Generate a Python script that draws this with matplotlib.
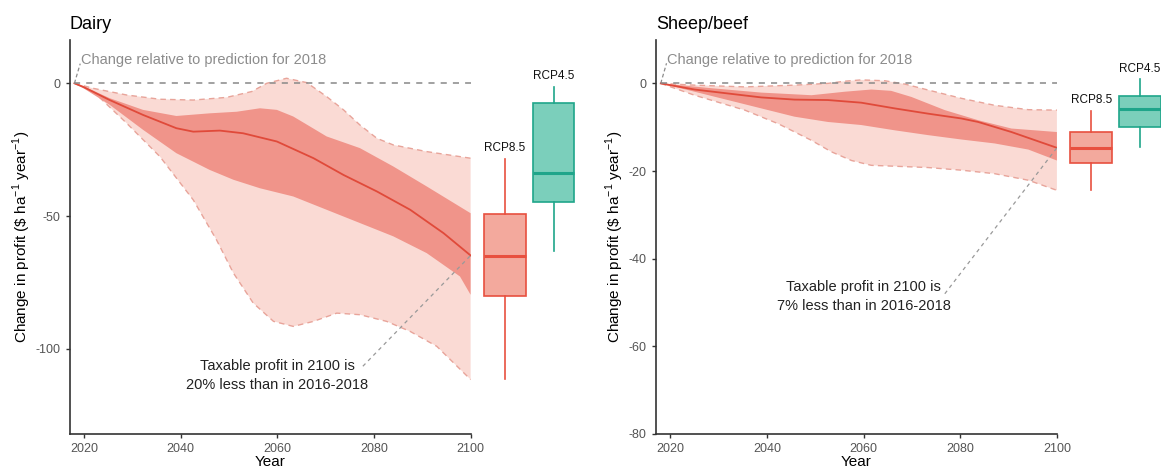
import matplotlib
matplotlib.use("Agg")
import matplotlib.pyplot as plt
import numpy as np

plt.rcParams['font.family'] = ['Liberation Sans', 'DejaVu Sans']
plt.rcParams['mathtext.fontset'] = 'custom'
plt.rcParams['mathtext.rm'] = 'Liberation Sans'
plt.rcParams['axes.unicode_minus'] = False

# ---------------- Dairy ----------------
dairy_med_x = [2018, 2020, 2025.3, 2032.2, 2039.1, 2042.6, 2048.1, 2052.9, 2059.9,
               2067.5, 2073.7, 2080.6, 2087.5, 2094.4, 2100]
dairy_med_y = [0, -1.5, -6.3, -11.9, -16.9, -18.2, -17.8, -18.8, -21.9,
               -28.2, -34.5, -40.7, -47.6, -56.4, -64.8]

dairy_ihi_x = [2018, 2020, 2025.3, 2032.2, 2039.1, 2046, 2051.6, 2056.4, 2059.9,
               2063.3, 2066.8, 2070.2, 2077.1, 2084, 2090.9, 2100]
dairy_ihi_y = [0, -1.2, -5.6, -10, -12.3, -11.3, -10.7, -9.4, -10,
               -12.5, -16.3, -20, -24.4, -31.3, -38.8, -48.9]

dairy_ilo_x = [2018, 2020, 2025.3, 2032.2, 2039.1, 2046, 2050.9, 2056.4, 2063.3,
               2070.2, 2077.1, 2084, 2090.9, 2097.8, 2100]
dairy_ilo_y = [0, -2, -8.1, -17.5, -26.3, -32.6, -36.3, -39.5, -42.6,
               -47.6, -52.6, -57.6, -63.9, -72.7, -79.6]

dairy_ohi_x = [2018, 2021.9, 2028.8, 2035.7, 2042.6, 2049.5, 2054.7, 2057.8, 2061.9,
               2066.1, 2070.2, 2073.7, 2077.1, 2080.6, 2084, 2090.9, 2100]
dairy_ohi_y = [0, -1.9, -4.4, -6, -6.3, -5.3, -3.1, 0, 1.9,
               0.25, -5, -10, -15.7, -20.7, -23.2, -25.7, -28.2]

dairy_olo_x = [2018, 2021.9, 2028.8, 2035.7, 2042.6, 2047.4, 2050.9, 2055, 2059.2,
               2063.3, 2067.5, 2072.3, 2077.1, 2082.6, 2087.5, 2093, 2100]
dairy_olo_y = [0, -3.1, -15, -27.6, -43.9, -58.9, -71.4, -82.7, -89.6,
               -91.5, -89.6, -86.5, -87.1, -89.6, -93.4, -99, -111.5]

dairy_box85 = dict(whislo=-111.4, q1=-80, med=-65, q3=-49.1, whishi=-28.5)
dairy_box45 = dict(whislo=-63, q1=-44.7, med=-33.6, q3=-7.5, whishi=-1.3)

# ---------------- Sheep/beef ----------------
sheep_med_x = [2018, 2025, 2031.9, 2038.8, 2045.7, 2052.6, 2059.5, 2066.4, 2073.3,
               2080.2, 2083.7, 2090.6, 2100]
sheep_med_y = [0, -1.4, -2.3, -3.2, -3.7, -3.8, -4.4, -5.7, -6.9,
               -8, -8.8, -11.1, -14.7]

sheep_ihi_x = [2018, 2028.5, 2038.8, 2049.2, 2056.1, 2061.6, 2065.7, 2069.9, 2076.8,
               2083.7, 2090.6, 2100]
sheep_ihi_y = [0, -1.1, -2.1, -2.7, -1.9, -1.4, -1.7, -3.1, -6.1,
               -8.4, -10.3, -11.1]

sheep_ilo_x = [2018, 2025, 2031.9, 2038.8, 2045.7, 2052.6, 2059.5, 2066.4, 2073.3,
               2080.2, 2087.1, 2094.1, 2100]
sheep_ilo_y = [0, -1.9, -3.8, -5.7, -7.6, -8.8, -9.5, -10.7, -11.8,
               -12.8, -13.7, -15.1, -17.6]

sheep_ohi_x = [2018, 2025, 2035.4, 2045.7, 2052.6, 2056.1, 2059.5, 2064.4, 2068.5,
               2073.3, 2080.2, 2087.1, 2094.1, 2100]
sheep_ohi_y = [0, -0.4, -0.8, -0.4, 0, 0.5, 0.8, 0.6, -0.15,
               -1.5, -3.4, -5, -6, -6.1]

sheep_olo_x = [2018, 2025, 2035.4, 2042.3, 2049.2, 2053.3, 2057.5, 2061.6, 2066.4,
               2073.3, 2080.2, 2087.1, 2094.1, 2100]
sheep_olo_y = [0, -2.7, -6.1, -9.2, -13, -15.6, -17.6, -18.7, -18.9,
               -19.2, -19.8, -20.6, -22.1, -24.4]

sheep_box85 = dict(whislo=-24.4, q1=-18.1, med=-14.7, q3=-11.2, whishi=-6.3)
sheep_box45 = dict(whislo=-14.5, q1=-9.9, med=-5.9, q3=-2.8, whishi=1.0)

panels = [
    dict(title="Dairy",
         med=(dairy_med_x, dairy_med_y), ihi=(dairy_ihi_x, dairy_ihi_y),
         ilo=(dairy_ilo_x, dairy_ilo_y), ohi=(dairy_ohi_x, dairy_ohi_y),
         olo=(dairy_olo_x, dairy_olo_y), b85=dairy_box85, b45=dairy_box45,
         ylim=(-132, 16.3), yticks=[0, -50, -100],
         ref_text_y=8.7, note="Taxable profit in 2100 is\n20% less than in 2016-2018",
         note_y=-110, lead_start=(2077.7, -106.5), lab85=-24.4, lab45=2.7,
         left=69.6 / 1161),
    dict(title="Sheep/beef",
         med=(sheep_med_x, sheep_med_y), ihi=(sheep_ihi_x, sheep_ihi_y),
         ilo=(sheep_ilo_x, sheep_ilo_y), ohi=(sheep_ohi_x, sheep_ohi_y),
         olo=(sheep_olo_x, sheep_olo_y), b85=sheep_box85, b45=sheep_box45,
         ylim=(-80, 9.9), yticks=[0, -20, -40, -60, -80],
         ref_text_y=5.4, note="Taxable profit in 2100 is\n7% less than in 2016-2018",
         note_y=-48.7, lead_start=(2076.8, -48.0), lab85=-3.8, lab45=3.3,
         left=655.9 / 1161),
]

LIGHT = "#FADAD4"
DARK = "#F0948A"
LINE = "#E04A3A"
EDGE = "#E8A49A"
RED_BOX_FILL = "#F3A99D"
RED_BOX_EDGE = "#E8503F"
TEAL_FILL = "#7BCFBB"
TEAL_EDGE = "#1FA58A"
GREY = "#8C8C8C"

fig = plt.figure(figsize=(11.61, 4.68), dpi=100)


def band(ax, lo, hi, color, z):
    xs = list(lo[0]) + list(hi[0])[::-1]
    ys = list(lo[1]) + list(hi[1])[::-1]
    ax.fill(xs, ys, color=color, lw=0, zorder=z)


for p in panels:
    ax = fig.add_axes([p['left'], 34 / 468, 401 / 1161, 394 / 468])
    band(ax, p['olo'], p['ohi'], LIGHT, 1)
    ax.plot(*p['ohi'], color=EDGE, lw=1.0, ls=(0, (4, 3)), zorder=2)
    ax.plot(*p['olo'], color=EDGE, lw=1.0, ls=(0, (4, 3)), zorder=2)
    band(ax, p['ilo'], p['ihi'], DARK, 3)
    ax.plot(*p['med'], color=LINE, lw=1.3, zorder=4)
    ax.plot([2018, 2100], [0, 0], color="#888888", lw=1.1,
            ls=(0, (4, 4)), zorder=5)

    # reference annotation
    ax.plot([2018, 2019.2], [0, p['ref_text_y'] * 0.85], color=GREY, lw=0.9,
            ls=(0, (3, 2)), zorder=5, clip_on=False)
    ax.text(2019.4, p['ref_text_y'], "Change relative to prediction for 2018",
            color=GREY, fontsize=10.5, va='center', ha='left', zorder=6)

    # 2100 note
    ax.plot([p['lead_start'][0], 2100], [p['lead_start'][1], p['med'][1][-1]],
            color="#999999", lw=0.9, ls=(0, (3, 3)), zorder=5)
    ax.text(2060, p['note_y'], p['note'], ha='center', va='center',
            fontsize=10.5, color="#222222", linespacing=1.45, zorder=6)

    # boxplots outside the panel
    for stats, pos, fc, ec, lab, ly in [
        (p['b85'], 2107.1, RED_BOX_FILL, RED_BOX_EDGE, "RCP8.5", p['lab85']),
        (p['b45'], 2117.2, TEAL_FILL, TEAL_EDGE, "RCP4.5", p['lab45'])]:
        arts = ax.bxp([stats], positions=[pos], widths=8.6, showfliers=False,
                      showcaps=False, patch_artist=True, manage_ticks=False,
                      boxprops=dict(facecolor=fc, edgecolor=ec, lw=1.2),
                      whiskerprops=dict(color=ec, lw=1.2),
                      medianprops=dict(color=ec, lw=2.2))
        for k in arts:
            for a in arts[k]:
                a.set_clip_on(False)
                a.set_zorder(6)
        ax.text(pos, ly, lab, ha='center', va='center', fontsize=8.5,
                color="#111111", clip_on=False)

    ax.set_xlim(2017, 2100)
    ax.set_ylim(*p['ylim'])
    ax.set_xticks([2020, 2040, 2060, 2080, 2100])
    ax.set_yticks(p['yticks'])
    for s in ['top', 'right']:
        ax.spines[s].set_visible(False)
    for s in ['left', 'bottom']:
        ax.spines[s].set_color("#333333")
        ax.spines[s].set_linewidth(1.2)
    ax.tick_params(colors="#333333", labelcolor="#555555", labelsize=9,
                   length=3, width=1)
    ax.set_xlabel("Year", fontsize=11, labelpad=0)
    ax.set_ylabel("Change in profit (\\$ ha$^{-1}$ year$^{-1}$)", fontsize=11,
                  labelpad=2)
    ax.set_title(p['title'], loc='left', fontsize=13, pad=8, x=0.0)

fig.savefig("out.png", dpi=100)
